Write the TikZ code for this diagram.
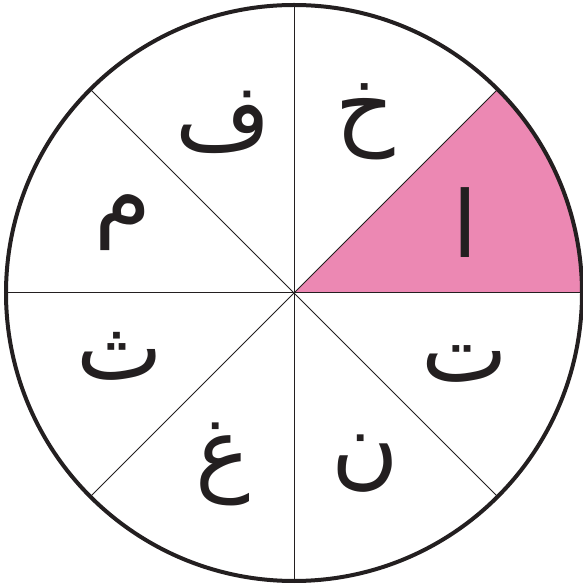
\documentclass[tikz,border=0pt]{standalone}
\usepackage{xcolor}
\usepackage{fontspec}
\newfontfamily\arabicfont[Script=Arabic]{DejaVu Sans}
\TeXXeTstate=1
\definecolor{NearBlack}{HTML}{231F20}
\definecolor{SectorPink}{HTML}{EC88B3}
\usepackage{tikz}

\begin{document}
\begin{tikzpicture}[x=1pt,y=1pt,
  rim/.style={draw=NearBlack,line width=4pt},
  spoke/.style={draw=NearBlack,line width=1pt},
  letter/.style={font=\arabicfont\fontsize{92}{92}\selectfont,text=NearBlack,inner sep=0pt}]
\useasboundingbox (0,0) rectangle (583,587);
\def\R{288}
\coordinate (c) at (294,294);
% shaded sector
\fill[SectorPink] (c) -- ([shift={(0:\R)}]c) arc[start angle=0,end angle=45,radius=\R] -- cycle;
% spokes
\foreach \a in {0,45,...,315} {
  \coordinate (p\a) at ([shift={(\a:\R)}]c);
  \draw[spoke] (c) -- (p\a);
}
\draw[rim] (c) circle[radius=\R];
% letters, one per sector
\foreach \ang/\ch/\nm in {22.5/ا/alif, 67.5/خ/kha, 112.5/ف/fa, 157.5/م/mim,
  200/ث/tha, 247.5/غ/ghain, 292.5/ن/nun, 337.5/ت/ta} {
  \node[letter] (\nm) at ([shift={(\ang:185)}]c) {\beginR\ch\endR};
}
\end{tikzpicture}
\end{document}
